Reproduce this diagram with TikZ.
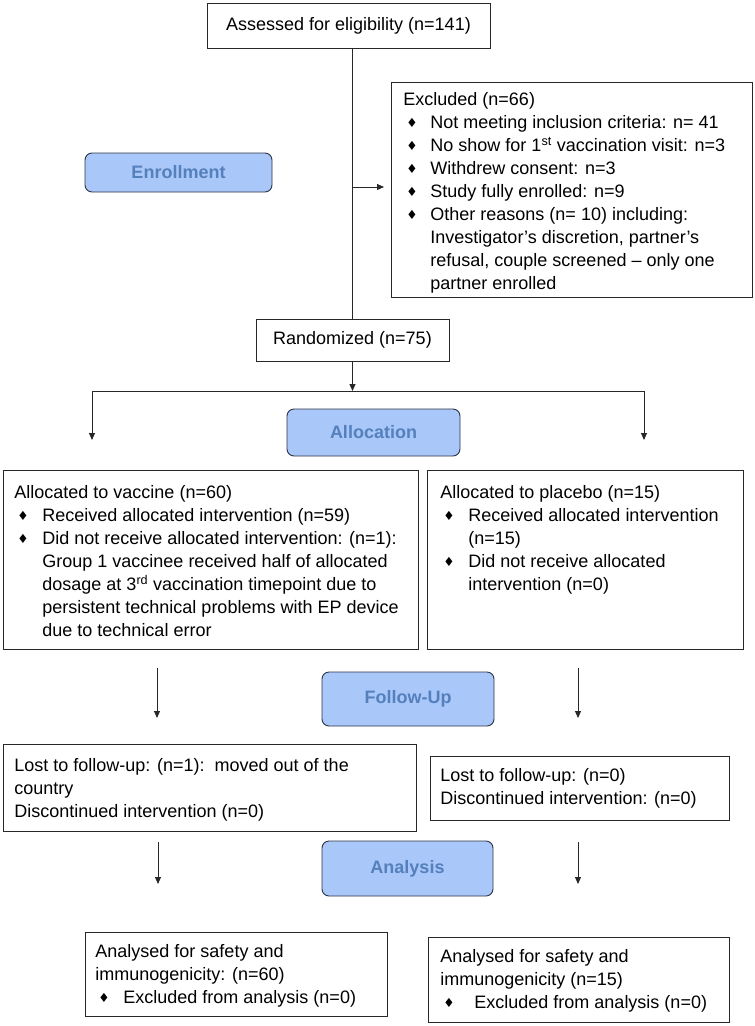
\documentclass[tikz,border=0pt]{standalone}
\usepackage{fontspec}
\setmainfont{Liberation Sans}
\newfontfamily\symfont{DejaVu Sans}
\usetikzlibrary{arrows.meta}
\definecolor{phasefill}{RGB}{170,199,250}
\definecolor{phasetext}{RGB}{84,128,188}
\definecolor{phasedraw}{RGB}{45,52,68}
\definecolor{linec}{RGB}{40,40,40}
\newcommand\dia{\raisebox{1pt}{\scalebox{0.7}{\symfont ♦}}}
\newcommand\bitem[2]{\par\noindent\hangindent=#1\hangafter=1\makebox[#1][l]{\hspace{3pt}\dia}\ignorespaces#2}
\newcommand\boxtxt[4]{\parbox[c][#2][t]{#1}{\raggedright\fontsize{18}{23}\selectfont\rule{0pt}{#3}\ignorespaces#4}}
\begin{document}
\begin{tikzpicture}[x=1pt,y=-1pt,
  every node/.style={font=\fontsize{18}{23}\selectfont, text=black},
  bx/.style={draw=linec, line width=0.9pt, anchor=north west, inner xsep=#1, inner ysep=0pt},
  bx/.default=12pt,
  plainbox/.style={draw=linec, line width=0.9pt, inner sep=0pt},
  phase/.style={draw=phasedraw, line width=0.9pt, fill=phasefill, rounded corners=7pt, text=phasetext, font=\fontsize{18}{22}\selectfont\bfseries, inner sep=0pt},
  arr/.style={draw=linec, line width=0.9pt, -{Triangle[length=7pt,width=6pt]}},
  ln/.style={draw=linec, line width=0.9pt}]
\useasboundingbox[fill=white] (0,0) rectangle (755,1026);

\node[plainbox, minimum width=283pt, minimum height=45pt] (assess) at (348.5,25.5) {Assessed for eligibility (n=141)};

\node[bx=12pt] (excl) at (391,82) {\boxtxt{337pt}{215pt}{23pt}{Excluded (n=66)
\bitem{27pt}{Not meeting inclusion criteria: n= 41}
\bitem{27pt}{No show for 1\textsuperscript{st} vaccination visit: n=3}
\bitem{27pt}{Withdrew consent: n=3}
\bitem{27pt}{Study fully enrolled: n=9}
\bitem{27pt}{Other reasons (n= 10) including:\newline Investigator’s discretion, partner’s\newline refusal, couple screened – only one\newline partner enrolled}}};

\node[phase, minimum width=187pt, minimum height=39pt] (enr) at (178.5,172.5) {Enrollment};
\node[plainbox, minimum width=193pt, minimum height=42pt] (rand) at (352.5,340) {Randomized (n=75)};

\draw[ln] (rand.north |- assess.south) -- (rand.north);
\coordinate (exj) at (352.5,187);
\draw[arr, shorten >=7pt] (exj) -- (exj -| excl.west);

\coordinate (split) at (352.5,391);
\coordinate (vl) at (92,440);
\coordinate (vr) at (644,440);
\draw[arr] (rand.south) -- (split);
\draw[arr] (split) -| (vl);
\draw[arr] (split) -| (vr);

\node[phase, minimum width=173pt, minimum height=47pt] (alloc) at (373.5,432.5) {Allocation};

\node[bx=11pt] (vac) at (3,470) {\boxtxt{393pt}{179pt}{28pt}{Allocated to vaccine (n=60)
\bitem{28pt}{Received allocated intervention (n=59)}
\bitem{28pt}{Did not receive allocated intervention: (n=1):\newline Group 1 vaccinee received half of allocated\newline dosage at 3\textsuperscript{rd} vaccination timepoint due to\newline persistent technical problems with EP device\newline due to technical error}}};

\node[bx=13pt] (plc) at (427,470) {\boxtxt{290pt}{179pt}{28pt}{Allocated to placebo (n=15)
\bitem{28pt}{Received allocated intervention\newline (n=15)}
\bitem{28pt}{Did not receive allocated\newline intervention (n=0)}}};

\coordinate (fa1) at (157,668); \coordinate (fb1) at (157,718);
\coordinate (fa2) at (578,668); \coordinate (fb2) at (578,718);
\draw[arr] (fa1) -- (fb1);
\draw[arr] (fa2) -- (fb2);
\node[phase, minimum width=172pt, minimum height=54pt] (fu) at (408,699) {Follow-Up};

\node[bx=11pt] (lostl) at (3,744) {\boxtxt{391pt}{87pt}{27pt}{Lost to follow-up: (n=1):\ \ moved out of the\\country\\Discontinued intervention (n=0)}};
\node[bx=10pt] (lostr) at (430,756) {\boxtxt{279pt}{64pt}{25pt}{Lost to follow-up: (n=0)\\Discontinued intervention: (n=0)}};

\coordinate (aa1) at (158,842); \coordinate (ab1) at (158,884);
\coordinate (aa2) at (578,842); \coordinate (ab2) at (578,884);
\draw[arr] (aa1) -- (ab1);
\draw[arr] (aa2) -- (ab2);
\node[phase, minimum width=171pt, minimum height=55pt] (ana) at (407.5,868.5) {Analysis};

\node[bx=10pt] (anl) at (85,932) {\boxtxt{282pt}{84pt}{25pt}{Analysed for safety and\\immunogenicity: (n=60)
\bitem{28pt}{Excluded from analysis (n=0)}}};
\node[bx=12pt] (anr) at (428,937) {\boxtxt{277pt}{85pt}{25pt}{Analysed for safety and\\immunogenicity (n=15)
\bitem{34pt}{Excluded from analysis (n=0)}}};
\end{tikzpicture}
\end{document}
